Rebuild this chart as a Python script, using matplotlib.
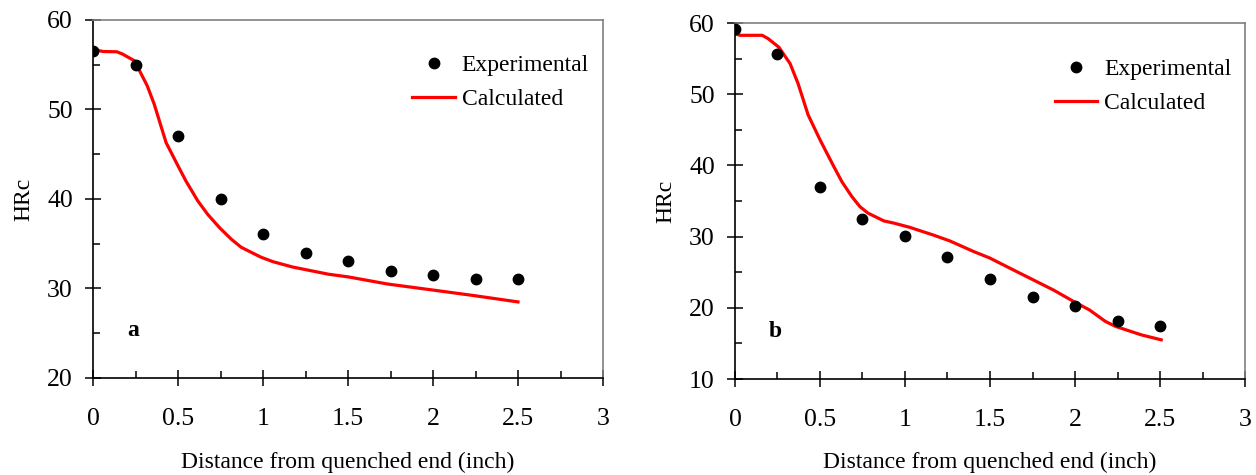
import matplotlib
matplotlib.use("Agg")
import matplotlib.pyplot as plt
from matplotlib.ticker import MultipleLocator, FormatStrFormatter

plt.rcParams['font.family'] = ['Liberation Serif', 'DejaVu Serif']

# données
x_exp = [0, 0.25, 0.5, 0.75, 1.0, 1.25, 1.5, 1.75, 2.0, 2.25, 2.5]
exp_a = [56.5, 55.0, 47.0, 40.0, 36.1, 34.0, 33.1, 32.0, 31.5, 31.1, 31.1]
exp_b = [59.2, 55.6, 37.0, 32.5, 30.1, 27.1, 24.0, 21.5, 20.2, 18.1, 17.5]

x_calc_a = [0, 0.058, 0.14, 0.174, 0.244, 0.319, 0.36, 0.43, 0.5, 0.547, 0.616,
            0.674, 0.744, 0.814, 0.872, 0.988, 1.058, 1.174, 1.384, 1.5, 1.733,
            2.01, 2.244, 2.5]
calc_a = [56.74, 56.48, 56.45, 56.19, 55.44, 52.65, 50.6, 46.3, 43.7, 42.0, 39.8,
          38.3, 36.8, 35.5, 34.6, 33.5, 33.0, 32.4, 31.6, 31.3, 30.5,
          29.8, 29.2, 28.5]

x_calc_b = [0, 0.03, 0.16, 0.195, 0.258, 0.324, 0.371, 0.43, 0.5, 0.582, 0.629,
            0.688, 0.735, 0.782, 0.876, 0.934, 1.028, 1.169, 1.263, 1.404, 1.498,
            1.639, 1.756, 1.873, 1.991, 2.085, 2.178, 2.237, 2.39, 2.507]
calc_b = [58.5, 58.27, 58.27, 57.8, 56.6, 54.3, 51.5, 47.1, 43.6, 39.8, 37.7,
          35.6, 34.2, 33.3, 32.2, 31.9, 31.3, 30.2, 29.4, 27.9, 27.0,
          25.3, 23.9, 22.5, 20.9, 19.7, 18.1, 17.4, 16.2, 15.5]

FS = 17  # texte
FS_TICK = 18.5  # graduations

fig = plt.figure(figsize=(12.56, 4.75), dpi=100)
ax_a = fig.add_axes([93/1256, 1 - 378/475, 510/1256, 358/475])
ax_b = fig.add_axes([735/1256, 1 - 379/475, 510/1256, 356/475])


def trace(ax, x_e, y_e, x_c, y_c, ylim, lettre, pos_lettre, pos_leg):
    ax.plot(x_e, y_e, 'o', color='black', markersize=7.5, label='Experimental', zorder=3)
    ax.plot(x_c, y_c, '-', color='#ff0000', linewidth=2.3, label='Calculated')
    ax.set_xlim(0, 3)
    ax.set_ylim(*ylim)
    ax.xaxis.set_major_locator(MultipleLocator(0.5))
    ax.xaxis.set_minor_locator(MultipleLocator(0.25))
    ax.yaxis.set_major_locator(MultipleLocator(10))
    ax.yaxis.set_minor_locator(MultipleLocator(5))
    ax.xaxis.set_major_formatter(FormatStrFormatter('%g'))
    ax.tick_params(which='major', direction='inout', length=11, width=1.1,
                   labelsize=FS_TICK, pad=16)
    ax.tick_params(axis='y', which='major', pad=9)
    ax.tick_params(which='minor', direction='in', length=5, width=1.1)
    for s in ['left', 'bottom']:
        ax.spines[s].set_color('black')
        ax.spines[s].set_linewidth(1.2)
    for s in ['top', 'right']:
        ax.spines[s].set_color('#808080')
        ax.spines[s].set_linewidth(1.2)
    ax.set_xlabel('Distance from quenched end (inch)', fontsize=FS)
    ax.set_ylabel('HRc', fontsize=FS)
    ax.xaxis.set_label_coords(0.5, -0.205)
    ax.yaxis.set_label_coords(-0.115, 0.5)
    ax.text(pos_lettre[0], pos_lettre[1], lettre, fontsize=FS, fontweight='bold',
            ha='center', va='center')
    ax.legend(loc='center left', bbox_to_anchor=pos_leg, frameon=False,
              fontsize=FS, handlelength=1.8, handletextpad=0.3,
              labelspacing=0.52, borderpad=0, borderaxespad=0, numpoints=1)


trace(ax_a, x_exp, exp_a, x_calc_a, calc_a, (20, 60), 'a', (0.235, 25.3), (0.626, 0.826))
trace(ax_b, x_exp, exp_b, x_calc_b, calc_b, (10, 60), 'b', (0.235, 16.7), (0.627, 0.822))

fig.savefig('out.png', dpi=100)
